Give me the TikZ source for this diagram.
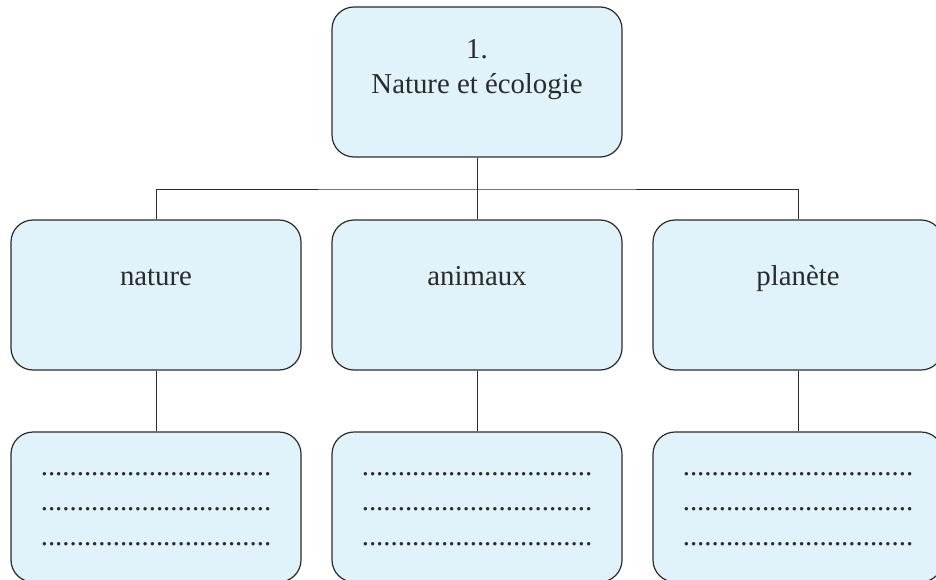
\documentclass[tikz,border=0pt]{standalone}
\usepackage{fontspec}
\setmainfont{Liberation Serif}
\usepackage{tikz}
\definecolor{boxfill}{HTML}{E0F2FA}
\definecolor{ink}{HTML}{2B2B2B}
\tikzstyle{topic} = [rectangle, rounded corners=22pt, minimum width=290pt, minimum height=150pt, align=center, draw=ink, line width=1.2pt, fill=boxfill, text=ink, font=\fontsize{28.8}{35}\selectfont]
\tikzstyle{line} = [draw=ink, line width=0.9pt]
\newcommand{\blanks}{................................}

\begin{document}
\begin{tikzpicture}[node distance=213pt] % rows 213pt apart, columns 321pt

\useasboundingbox (0,0) rectangle (936pt,-580pt);

% Nodes
\node (theme) [topic, text height=40pt, text depth=16pt] at (477pt,-82pt) {1.\\Nature et écologie};
\node (animaux) [topic, below of=theme, text height=20pt, text depth=40pt] {animaux};
\node (nature) [topic, left of=animaux, xshift=-108pt, text height=20pt, text depth=40pt] {nature};
\node (planete) [topic, right of=animaux, xshift=108pt, text height=20pt, text depth=40pt] {planète};
\node (natureblank) [topic, below of=nature, yshift=1pt, text height=76pt, text depth=0pt] {\blanks\\\blanks\\\blanks};
\node (animauxblank) [topic, below of=animaux, yshift=1pt, text height=76pt, text depth=0pt] {\blanks\\\blanks\\\blanks};
\node (planeteblank) [topic, below of=planete, yshift=1pt, text height=76pt, text depth=0pt] {\blanks\\\blanks\\\blanks};
\coordinate [below of=theme, node distance=107pt] (bus);

% Lines
\draw [line] (theme) -- (bus);
\draw [line] (nature.north) |- (bus) -| (planete.north);
\draw [line] (bus) -- (animaux.north);
\draw [line] (nature) -- (natureblank);
\draw [line] (animaux) -- (animauxblank);
\draw [line] (planete) -- (planeteblank);

\end{tikzpicture}
\end{document}
